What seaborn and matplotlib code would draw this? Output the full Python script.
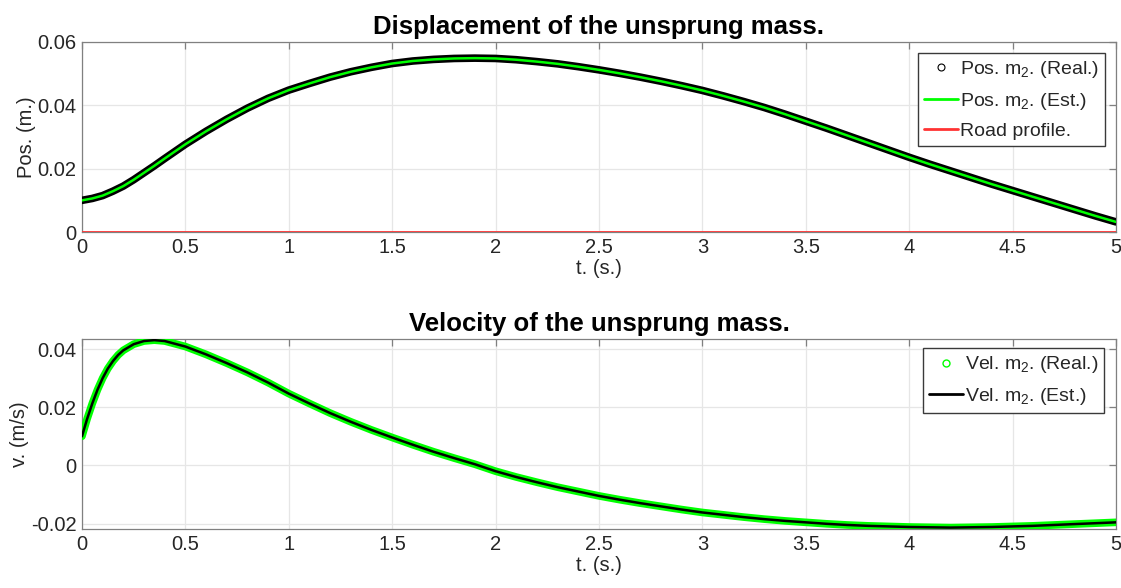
import matplotlib
matplotlib.use("Agg")
import matplotlib.pyplot as plt
from matplotlib.lines import Line2D
import pandas as pd
import seaborn as sns

# Time samples for the displacement (s)
t_pos = [0.0, 0.05, 0.1, 0.15, 0.2, 0.25, 0.3, 0.35, 0.4, 0.5, 0.6, 0.7, 0.8, 0.9,
         1.0, 1.1, 1.2, 1.3, 1.4, 1.5, 1.6, 1.7, 1.8, 1.9, 2.0, 2.1, 2.2, 2.3, 2.4,
         2.5, 2.6, 2.7, 2.8, 2.9, 3.0, 3.1, 3.2, 3.3, 3.4, 3.5, 3.6, 3.7, 3.8, 3.9,
         4.0, 4.1, 4.2, 4.3, 4.4, 4.5, 4.6, 4.7, 4.8, 4.9, 5.0]

# Displacement of the unsprung mass (m)
pos_m2 = [0.0100, 0.0106, 0.0115, 0.0129, 0.0145, 0.0165, 0.0187, 0.0209, 0.0232,
          0.0277, 0.0318, 0.0356, 0.0391, 0.0422, 0.0448, 0.0469, 0.0489, 0.0506,
          0.0520, 0.0532, 0.0540, 0.0545, 0.0548, 0.0549, 0.0548, 0.0544, 0.0538,
          0.0531, 0.0522, 0.0512, 0.0501, 0.0489, 0.0476, 0.0462, 0.0447, 0.0430,
          0.0412, 0.0393, 0.0372, 0.0350, 0.0328, 0.0305, 0.0282, 0.0259, 0.0236,
          0.0214, 0.0193, 0.0172, 0.0151, 0.0131, 0.0111, 0.0091, 0.0071, 0.0051,
          0.0032]

# Road profile (m)
road = [0.0] * len(t_pos)

# Time samples for the velocity (s)
t_vel = [0.0, 0.025, 0.05, 0.075, 0.1, 0.125, 0.15, 0.175, 0.2, 0.25, 0.3, 0.35,
         0.4, 0.5, 0.6, 0.7, 0.8, 0.9, 1.0, 1.1, 1.2, 1.3, 1.4, 1.5, 1.6, 1.7, 1.8,
         1.9, 2.0, 2.1, 2.2, 2.3, 2.4, 2.5, 2.6, 2.7, 2.8, 2.9, 3.0, 3.1, 3.2, 3.3,
         3.4, 3.5, 3.6, 3.7, 3.8, 3.9, 4.0, 4.1, 4.2, 4.3, 4.4, 4.5, 4.6, 4.7, 4.8,
         4.9, 5.0]

# Velocity of the unsprung mass (m/s)
vel_m2 = [0.0100, 0.0160, 0.0213, 0.0260, 0.0300, 0.0333, 0.0359, 0.0380, 0.0396,
          0.0417, 0.0428, 0.0431, 0.0428, 0.0409, 0.0382, 0.0352, 0.0320, 0.0285,
          0.0247, 0.0213, 0.0180, 0.0150, 0.0122, 0.0096, 0.0071, 0.0047, 0.0025,
          0.0004, -0.0020, -0.0040, -0.0058, -0.0075, -0.0090, -0.0105, -0.0118,
          -0.0130, -0.0141, -0.0152, -0.0162, -0.0170, -0.0178, -0.0185, -0.0191,
          -0.0196, -0.0201, -0.0205, -0.0208, -0.0210, -0.0212, -0.0213, -0.0214,
          -0.0213, -0.0212, -0.0210, -0.0208, -0.0205, -0.0202, -0.0199, -0.0196]

x_ticks = [0, 0.5, 1, 1.5, 2, 2.5, 3, 3.5, 4, 4.5, 5]
x_ticklabels = ["0", "0.5", "1", "1.5", "2", "2.5", "3", "3.5", "4", "4.5", "5"]
pos_ticks = [0, 0.02, 0.04, 0.06]
pos_ticklabels = ["0", "0.02", "0.04", "0.06"]
vel_ticks = [-0.02, 0, 0.02, 0.04]
vel_ticklabels = ["-0.02", "0", "0.02", "0.04"]

df_pos = pd.DataFrame({"t": t_pos, "pos": pos_m2, "road": road})
df_vel = pd.DataFrame({"t": t_vel, "vel": vel_m2})

sns.set_style("white")
plt.rcParams["font.family"] = ["Liberation Sans", "DejaVu Sans"]
plt.rcParams["mathtext.fontset"] = "custom"
plt.rcParams["mathtext.rm"] = "Liberation Sans"
plt.rcParams["mathtext.it"] = "Liberation Sans"

GREEN = "#00ff00"
RED = "#ff3333"
EDGE = "#808080"
TXT = "#262626"
FS = 14.5

fig = plt.figure(figsize=(11.21, 5.88), dpi=100)
ax1 = fig.add_axes([0.0731, 0.6054, 0.9224, 0.3232])
ax2 = fig.add_axes([0.0731, 0.1003, 0.9224, 0.3232])


def style_axes(ax, yticks, yticklabels, ylim):
    ax.set_xlim(0, 5)
    ax.set_ylim(*ylim)
    ax.set_xticks(x_ticks)
    ax.set_xticklabels(x_ticklabels)
    ax.set_yticks(yticks)
    ax.set_yticklabels(yticklabels)
    ax.grid(True, color="#e6e6e6", linewidth=0.9)
    ax.set_axisbelow(True)
    for s in ax.spines.values():
        s.set_color(EDGE)
        s.set_linewidth(0.9)
    ax.tick_params(direction="in", length=5, width=0.9, color=EDGE,
                   top=True, right=True, labelsize=FS, labelcolor=TXT, pad=4)
    ax.set_xlabel("t. (s.)", fontsize=FS, color=TXT, labelpad=2)


def legend_box(ax, handles, labels, anchor):
    ax.legend(handles, labels, loc="upper right", bbox_to_anchor=anchor,
              fontsize=14, frameon=True, fancybox=False, edgecolor="#3a3a3a",
              framealpha=1, handlelength=1.75, handletextpad=0.1, borderpad=0.3,
              labelspacing=0.55, borderaxespad=0.0)


# Displacement panel
sns.lineplot(data=df_pos, x="t", y="pos", ax=ax1, color="black", linewidth=5.5,
             solid_capstyle="round", legend=False, zorder=3)
sns.lineplot(data=df_pos, x="t", y="pos", ax=ax1, color=GREEN, linewidth=1.8,
             legend=False, zorder=4)
sns.lineplot(data=df_pos, x="t", y="road", ax=ax1, color=RED, linewidth=2,
             legend=False, zorder=5)
style_axes(ax1, pos_ticks, pos_ticklabels, (0, 0.06))
ax1.set_ylabel("Pos. (m.)", fontsize=FS, color=TXT, labelpad=1)
ax1.set_title("Displacement of the unsprung mass.", fontsize=18.5,
              fontweight="bold", color="black", pad=6)
h1 = [
    Line2D([], [], linestyle="none", marker="o", markersize=5,
           markerfacecolor="none", markeredgecolor="black", markeredgewidth=0.8),
    Line2D([], [], color=GREEN, linewidth=2),
    Line2D([], [], color=RED, linewidth=2),
]
legend_box(ax1, h1, [r"Pos. m$_2$. (Real.)", r"Pos. m$_2$. (Est.)", "Road profile."],
           (0.9895, 0.94))

# Velocity panel
sns.lineplot(data=df_vel, x="t", y="vel", ax=ax2, color=GREEN, linewidth=5.5,
             solid_capstyle="round", legend=False, zorder=3)
sns.lineplot(data=df_vel, x="t", y="vel", ax=ax2, color="black", linewidth=1.8,
             legend=False, zorder=4)
style_axes(ax2, vel_ticks, vel_ticklabels, (-0.0219, 0.0435))
ax2.set_ylabel("v. (m/s)", fontsize=FS, color=TXT, labelpad=1)
ax2.set_title("Velocity of the unsprung mass.", fontsize=18.5,
              fontweight="bold", color="black", pad=6)
h2 = [
    Line2D([], [], linestyle="none", marker="o", markersize=5,
           markerfacecolor="none", markeredgecolor=GREEN, markeredgewidth=1.0),
    Line2D([], [], color="black", linewidth=2),
]
legend_box(ax2, h2, [r"Vel. m$_2$. (Real.)", r"Vel. m$_2$. (Est.)"],
           (0.9885, 0.95))

fig.savefig("out.png", dpi=100)
